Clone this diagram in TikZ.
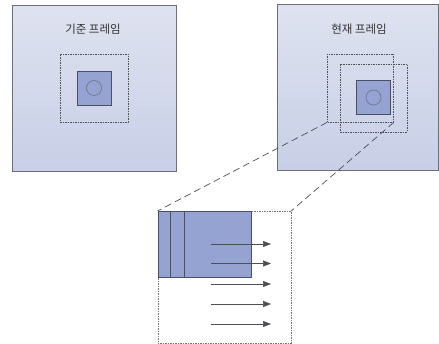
\documentclass[tikz,border=0pt]{standalone}
\usepackage{fontspec}
\newfontfamily\kr{Noto Sans CJK KR}
\usetikzlibrary{arrows.meta}
\definecolor{framebd}{HTML}{6E6E78}
\definecolor{frametop}{HTML}{DEE2F0}
\definecolor{framebot}{HTML}{C8CFE6}
\definecolor{blk}{HTML}{94A3D2}
\definecolor{blkbd}{HTML}{4A4F66}
\definecolor{ln}{HTML}{4F4F55}
\tikzset{
  frame/.style={draw=framebd, line width=0.9pt, top color=frametop, bottom color=framebot},
  win/.style={draw=ln, line width=0.7pt, dash pattern=on 1.5pt off 1pt},
  blkbox/.style={draw=blkbd, line width=0.8pt, fill=blk},
  ring/.style={draw=blkbd!80, line width=0.6pt},
  guide/.style={draw=ln, line width=0.7pt, dash pattern=on 7pt off 4pt},
  flow/.style={draw=ln, line width=0.7pt, -{Triangle[length=8pt,width=6pt]}},
  lbl/.style={font=\kr\fontsize{11.5}{13}\selectfont, text=black!80}
}
\begin{document}
\begin{tikzpicture}[x=1pt,y=-1pt]
\useasboundingbox (0,0) rectangle (439,344);
% reference frame
\node[frame, minimum width=164pt, minimum height=166pt, anchor=north west, inner sep=0pt] (rf) at (12,5) {};
\node[lbl] (rft) at (93,29.5) {기준 프레임};
\node[win, minimum width=68pt, minimum height=68pt, inner sep=0pt] (rw) at (94,88) {};
\node[blkbox, minimum width=34pt, minimum height=34pt, inner sep=0pt] (rb) at (94,88) {};
\node[ring, circle, minimum size=15pt, inner sep=0pt] (rc) at (94,88) {};
% current frame
\node[frame, minimum width=161pt, minimum height=166pt, anchor=north west, inner sep=0pt] (cf) at (277,4) {};
\node[lbl] (cft) at (359,29.5) {현재 프레임};
\node[win, minimum width=66pt, minimum height=68pt, inner sep=0pt] (cw1) at (360.5,88) {};
\node[win, minimum width=67pt, minimum height=68pt, inner sep=0pt] (cw2) at (373.5,98) {};
\node[blkbox, minimum width=34pt, minimum height=34pt, inner sep=0pt] (cb) at (373.5,97.5) {};
\node[ring, circle, minimum size=15pt, inner sep=0pt] (cc) at (373.5,97.5) {};
% magnified window
\node[win, draw=ln!80, minimum width=133pt, minimum height=132pt, anchor=north west, inner sep=0pt] (zw) at (157.5,211) {};
\node[blkbox, minimum width=93.5pt, minimum height=66pt, anchor=north west, inner sep=0pt] (zb) at (157.5,211) {};
\draw[blkbd, line width=0.8pt] (170.7,211) -- (170.7,277);
\draw[blkbd, line width=0.8pt] (184.3,211) -- (184.3,277);
% guide lines
\draw[guide] (cw1.south west) -- (zw.north west);
\draw[guide] (cw1.south east) -- (zw.north east);
% flow arrows
\foreach \y/\n in {244/a1,263.5/a2,284/a3,304/a4,324/a5}{
  \coordinate (\n s) at (211,\y);
  \coordinate (\n e) at (271,\y);
  \draw[flow] (\n s) -- (\n e);
}
\end{tikzpicture}
\end{document}
